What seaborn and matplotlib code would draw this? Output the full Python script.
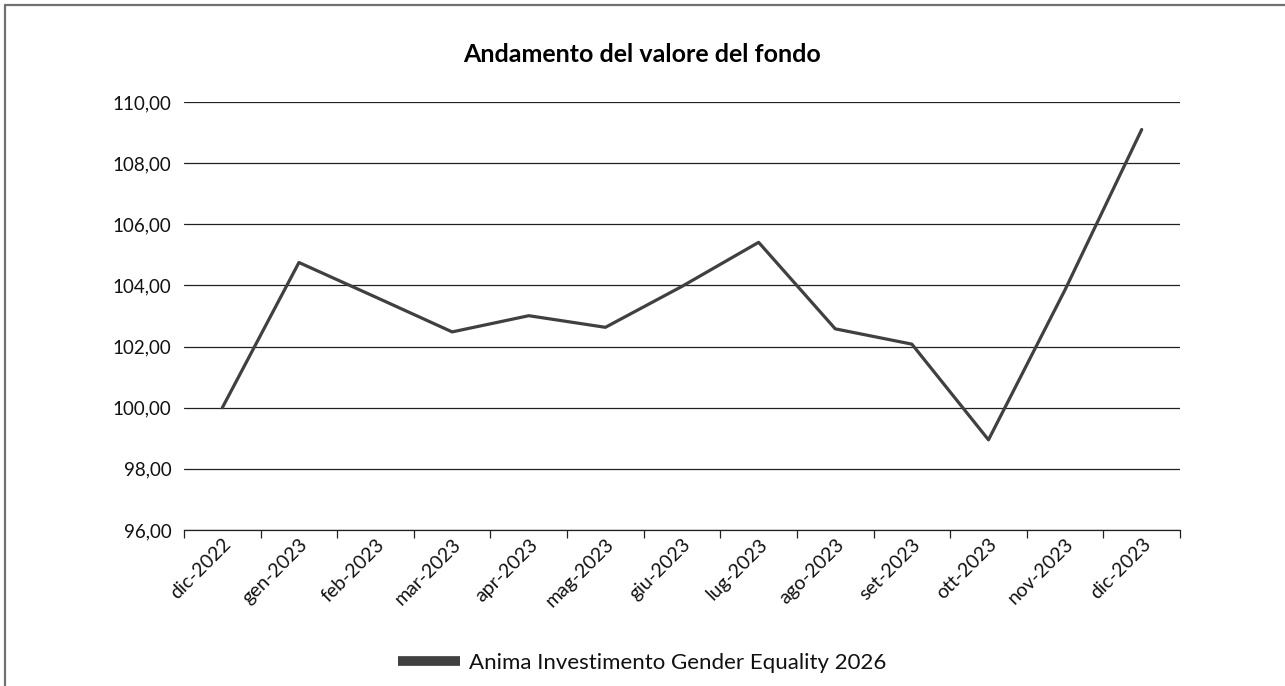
import numpy as np
import pandas as pd
import seaborn as sns
import matplotlib.pyplot as plt
from matplotlib.ticker import FuncFormatter, FixedLocator
from matplotlib.lines import Line2D

mesi = ['dic-2022', 'gen-2023', 'feb-2023', 'mar-2023', 'apr-2023', 'mag-2023', 'giu-2023',
        'lug-2023', 'ago-2023', 'set-2023', 'ott-2023', 'nov-2023', 'dic-2023']
valori = [100.00, 104.75, 103.62, 102.48, 103.01, 102.63, 103.97,
          105.41, 102.58, 102.08, 98.95, 103.86, 109.10]
serie = 'Anima Investimento Gender Equality 2026'

df = pd.DataFrame({'pos': np.arange(len(mesi)), 'valore': valori, 'serie': serie})

sns.set_style('white')
plt.rcParams['font.family'] = ['Lato', 'DejaVu Sans']
plt.rcParams['text.color'] = '#111111'
plt.rcParams['xtick.color'] = '#111111'
plt.rcParams['ytick.color'] = '#111111'

fig = plt.figure(figsize=(12.85, 6.86), dpi=100)
ax = fig.add_axes([0.1432, 0.2274, 0.7751, 0.6239])

sns.lineplot(data=df, x='pos', y='valore', hue='serie', palette=['#404040'],
             linewidth=2.3, ax=ax, legend=False)

ax.set_ylim(96, 110)
ax.set_yticks(np.arange(96, 111, 2))
ax.yaxis.set_major_formatter(FuncFormatter(lambda v, p: f'{v:.2f}'.replace('.', ',')))
ax.yaxis.grid(True, color='#202020', linewidth=0.9)
ax.set_axisbelow(True)

ax.set_xlim(-0.5, len(mesi) - 0.5)
ax.set_xticks(np.arange(len(mesi)))
ax.set_xticklabels(mesi, rotation=45, ha='right', rotation_mode='anchor')
ax.xaxis.set_minor_locator(FixedLocator(np.arange(-0.5, len(mesi), 1)))
ax.tick_params(axis='x', which='major', length=0, pad=4, labelsize=14)
ax.tick_params(axis='x', which='minor', length=6, width=0.9, color='#202020', bottom=True)
ax.tick_params(axis='y', length=0, pad=9, labelsize=13.5)

for s in ['top', 'right', 'left']:
    ax.spines[s].set_visible(False)
ax.spines['bottom'].set_color('#202020')
ax.spines['bottom'].set_linewidth(0.9)

ax.set_xlabel('')
ax.set_ylabel('')
fig.text(0.5, 1 - 55 / 686, 'Andamento del valore del fondo', fontsize=18,
         fontweight='bold', ha='center', va='center', color='black')

handle = Line2D([], [], color='#404040', linewidth=7, solid_capstyle='butt')
fig.legend([handle], [serie], loc='center', bbox_to_anchor=(0.5, 1 - 663 / 686),
           frameon=False, fontsize=16, handlelength=2.8, handletextpad=0.4)

# cornice esterna (solo sinistra e sopra)
fig.add_artist(Line2D([5 / 1285, 5 / 1285], [0, 1 - 5 / 686], color='#707070', linewidth=1.6))
fig.add_artist(Line2D([5 / 1285, 1], [1 - 5 / 686, 1 - 5 / 686], color='#707070', linewidth=1.6))

fig.savefig('out.png', dpi=100)
